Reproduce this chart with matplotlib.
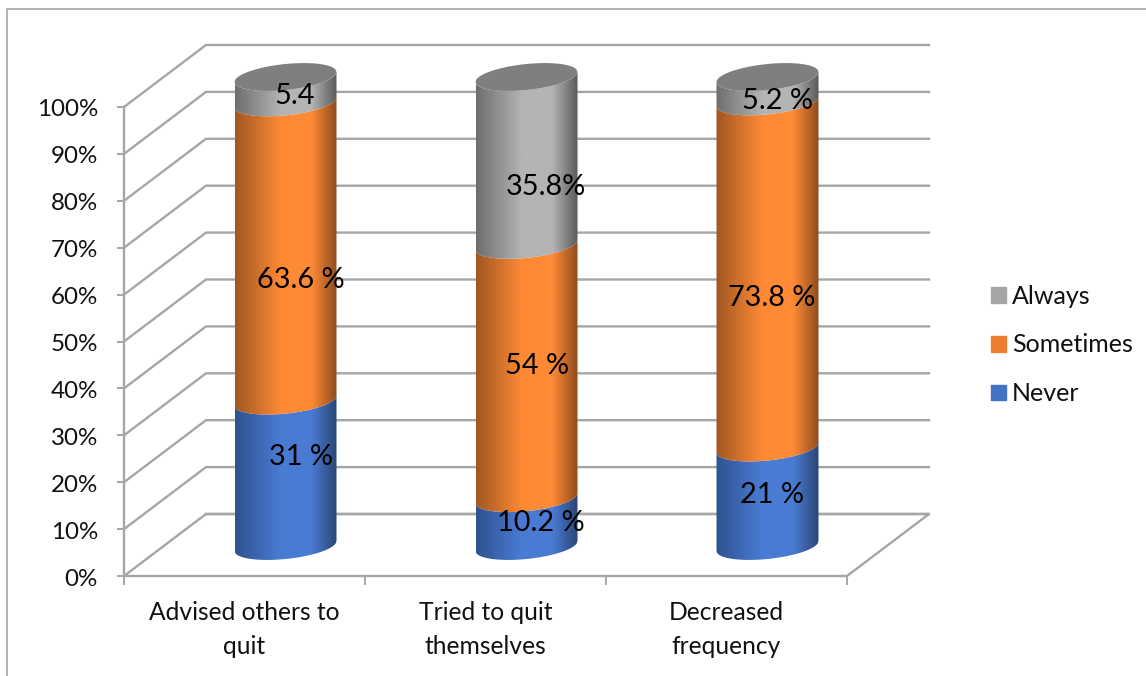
import numpy as np
import matplotlib
matplotlib.use('Agg')
import matplotlib.pyplot as plt
from matplotlib.colors import LinearSegmentedColormap
from matplotlib.patches import Patch, Polygon

plt.rcParams['font.family'] = ['Lato', 'DejaVu Sans']

categories = ['Advised others to\nquit', 'Tried to quit\nthemselves', 'Decreased\nfrequency']
series_names = ['Never', 'Sometimes', 'Always']
never = [31, 10.2, 21]
sometimes = [63.6, 54, 73.8]
always = [5.4, 35.8, 5.2]
labels_never = ['31 %', '10.2 %', '21 %']
labels_sometimes = ['63.6 %', '54 %', '73.8 %']
labels_always = ['5.4', '35.8%', '5.2 %']
y_ticks = list(range(0, 101, 10))

# hand-placed value labels: pixels off the bar centre and the segment middle
label_dx = [(15.7, 15.7, 9), (14, 11, 19), (4, 4, 10)]
label_dy = [(16.3, -28.7, -6.7), (-0.7, 5.3, -25.7), (1.3, -23.7, -11.7)]

W, H = 1146, 676
PX_X = 241.0      # pixels per category
PX_Y = 4.69       # pixels per percent
X0, Y0 = 124, 576

GRID = '#a6a6a6'
colors = {'Never': ('#2f5290', '#4a7bd3', '#2a4675'),
          'Sometimes': ('#9f5722', '#ff8a35', '#8f4c1e'),
          'Always': ('#6e6e6e', '#b4b4b4', '#5a5a5a')}
swatch = {'Never': '#4472c4', 'Sometimes': '#ed7d31', 'Always': '#a5a5a5'}

# depth of the box, in category and percent units
DX = 82 / PX_X
DY = 62 / PX_Y
BAR_HALF = 51 / PX_X
BASE = 30 / PX_Y
ELL = 13 / PX_Y
TILT = 5 / PX_Y

fig = plt.figure(figsize=(W / 100, H / 100), dpi=100)
ax = fig.add_axes([0, 0, 1, 1])
ax.set_xlim(-X0 / PX_X, (W - X0) / PX_X)
ax.set_ylim(-(H - Y0) / PX_Y, Y0 / PX_Y)
ax.axis('off')

# outer chart frame
fx0, fx1 = (7 - X0) / PX_X, (1146 - X0) / PX_X
fy1 = (Y0 - 9) / PX_Y
ax.plot([fx0, fx0, fx1], [-(H - Y0) / PX_Y, fy1, fy1], color='#ababab', lw=1.3)

# walls and floor
n = len(categories)
for t in y_ticks:
    if t > 0:
        ax.plot([0, DX, n + DX], [t, t + DY, t + DY], color=GRID, lw=1.7, solid_joinstyle='miter')
    ax.plot([-6 / PX_X, 0], [t, t], color=GRID, lw=1.4)
    ax.text(-26 / PX_X, t - 3 / PX_Y, f'{t}%', ha='right', va='center', fontsize=17.4, color='#111111')
ax.plot([DX, n + DX, n, 0, DX, n + DX], [DY, DY, 0, 0, DY, DY], color=GRID, lw=1.7, solid_joinstyle='miter')
ax.plot([0, 0], [0, 100], color=GRID, lw=1.7)
for i in range(n + 1):
    ax.plot([i, i], [0, -8 / PX_Y], color=GRID, lw=1.4)
for i, cat in enumerate(categories):
    ax.text(i + 0.5, -25 / PX_Y, cat, ha='center', va='top', fontsize=17.7,
            color='#111111', linespacing=1.6)


def curve(cx, level, front=True):
    # one edge of a skewed ellipse, left to right
    s = np.linspace(-1, 1, 121)
    side = -1 if front else 1
    return cx + s * BAR_HALF, level + s * TILT + side * ELL * np.sqrt(1 - s ** 2)


def draw_segment(cx, low, high, name):
    xb, yb = curve(cx, low)
    xt, yt = curve(cx, high)
    pts = np.vstack([np.column_stack([xb, yb]), np.column_stack([xt[::-1], yt[::-1]])])
    poly = Polygon(pts, closed=True, transform=ax.transData, fc='none', ec='none')
    ax.add_patch(poly)
    cmap = LinearSegmentedColormap.from_list('c', [(0, colors[name][0]), (0.45, colors[name][1]),
                                                   (0.75, colors[name][1]), (1, colors[name][2])])
    im = ax.imshow(np.linspace(0, 1, 256)[None, :], cmap=cmap, aspect='auto', zorder=3,
                   extent=[cx - BAR_HALF, cx + BAR_HALF, low - 2 * ELL, high + 2 * ELL])
    im.set_clip_path(poly)


for i in range(n):
    cx = i + 0.5 + DX / 2
    lows = [0, never[i], never[i] + sometimes[i]]
    highs = [never[i], never[i] + sometimes[i], 100]
    for name, low, high in zip(series_names, lows, highs):
        draw_segment(cx, BASE + low, BASE + high, name)
    # top cap
    xf, yf = curve(cx, BASE + 100)
    xb, yb = curve(cx, BASE + 100, front=False)
    ax.fill(np.r_[xf, xb[::-1]], np.r_[yf, yb[::-1]], color='#7f7f7f', lw=0, zorder=4)
    # value labels
    texts = [labels_never[i], labels_sometimes[i], labels_always[i]]
    for j, (low, high, txt) in enumerate(zip(lows, highs, texts)):
        ax.text(cx + label_dx[i][j] / PX_X, BASE + (low + high) / 2 + label_dy[i][j] / PX_Y, txt,
                ha='center', va='center', fontsize=20.8, color='black', zorder=5)

ax.set_xlim(-X0 / PX_X, (W - X0) / PX_X)
ax.set_ylim(-(H - Y0) / PX_Y, Y0 / PX_Y)

handles = [Patch(color=swatch[s], label=s) for s in series_names[::-1]]
ax.legend(handles=handles, loc='center left', bbox_to_anchor=(986 / W, 1 - 345 / H),
          frameon=False, fontsize=18, labelcolor='#111111', handlelength=0.6, handleheight=0.6,
          handletextpad=0.25, labelspacing=1.03, borderpad=0.2, borderaxespad=0)

fig.savefig('out.png', dpi=100)
